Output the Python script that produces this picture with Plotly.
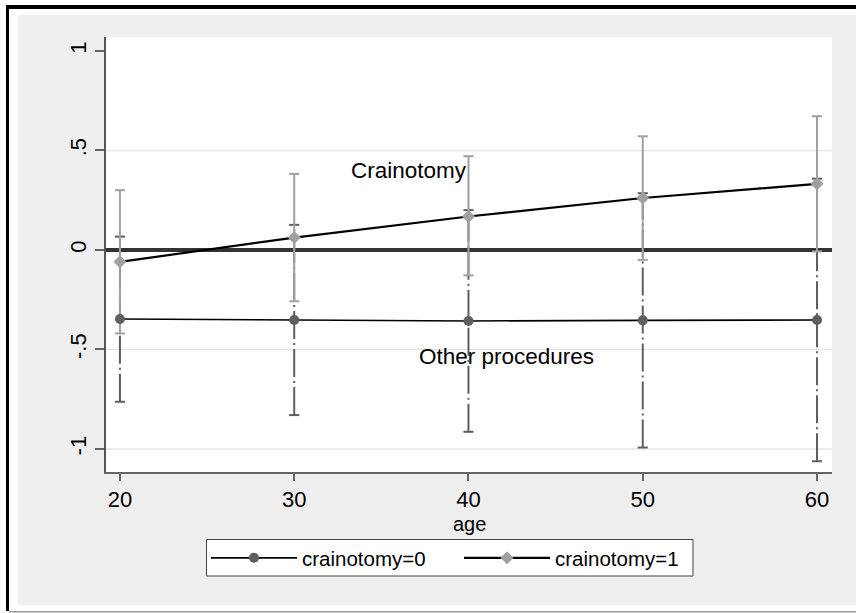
import plotly.graph_objects as go

# ---- data ----
ages = [20, 30, 40, 50, 60]
est0 = [-0.347, -0.352, -0.357, -0.354, -0.352]
lo0 = [-0.763, -0.830, -0.914, -0.993, -1.062]
hi0 = [0.067, 0.126, 0.200, 0.285, 0.358]
est1 = [-0.060, 0.062, 0.168, 0.261, 0.332]
lo1 = [-0.420, -0.258, -0.128, -0.050, -0.008]
hi1 = [0.300, 0.382, 0.471, 0.571, 0.672]
series_names = ["crainotomy=0", "crainotomy=1"]
ytick_vals = [-1, -0.5, 0, 0.5, 1]
ytick_text = ["-1", "-.5", "0", ".5", "1"]
xtick_vals = [20, 30, 40, 50, 60]
grid_vals = [-1, -0.5, 0.5]
x_title = "age"
label_crani = ("Crainotomy", 36.6, 0.40)
label_other = ("Other procedures", 42.2, -0.535)

# ---- layout geometry ----
W, H = 856, 613
L, R, T, B = 106, 24, 37, 141
PW, PH = W - L - R, H - T - B
FONT = "Liberation Sans, Arial, Helvetica, sans-serif"
DARK = "#5f5f5f"
LIGHT = "#a0a0a0"
CAP = 0.29


def px(v):
    return (v - L) / PW


def py(v):
    return (H - B - v) / PH


def bars(xs, lo, hi):
    bx, by, cx, cy = [], [], [], []
    for x, l, h in zip(xs, lo, hi):
        bx += [x, x, None]
        by += [l, h, None]
        for e in (l, h):
            cx += [x - CAP, x + CAP, None]
            cy += [e, e, None]
    return bx, by, cx, cy


fig = go.Figure()

b0 = bars(ages, lo0, hi0)
fig.add_trace(go.Scatter(x=b0[0], y=b0[1], mode="lines", showlegend=False, hoverinfo="skip",
                         line=dict(color=DARK, width=2, dash="28px,4px,2px,4px")))
fig.add_trace(go.Scatter(x=b0[2], y=b0[3], mode="lines", showlegend=False, hoverinfo="skip",
                         line=dict(color=DARK, width=2)))
b1 = bars(ages, lo1, hi1)
fig.add_trace(go.Scatter(x=b1[0], y=b1[1], mode="lines", showlegend=False, hoverinfo="skip",
                         line=dict(color=LIGHT, width=2)))
fig.add_trace(go.Scatter(x=b1[2], y=b1[3], mode="lines", showlegend=False, hoverinfo="skip",
                         line=dict(color=LIGHT, width=2)))

fig.add_trace(go.Scatter(x=ages, y=est0, mode="lines+markers", name=series_names[0],
                         line=dict(color="black", width=1.6),
                         marker=dict(symbol="circle", size=10, color=DARK, line=dict(width=0))))
fig.add_trace(go.Scatter(x=ages, y=est1, mode="lines+markers", name=series_names[1],
                         line=dict(color="black", width=2.2),
                         marker=dict(symbol="diamond", size=10, color=LIGHT, line=dict(width=0))))

shapes = []
for g in grid_vals:
    shapes.append(dict(type="line", xref="paper", yref="y", x0=0, x1=1, y0=g, y1=g,
                       line=dict(color="#e6e6e6", width=1.5), layer="below"))

frame = [
    (0, 18, 0, H, "white"),
    (0, W, 0, 15, "white"),
    (0, W, 605, H, "white"),
    (6, W, 5, 9, "black"),
    (6, 9, 5, 611, "black"),
    (9, W, 611, 612.6, "#999999"),
]
for x0, x1, y0, y1, c in frame:
    shapes.append(dict(type="rect", xref="paper", yref="paper", x0=px(x0), x1=px(x1),
                       y0=py(y1), y1=py(y0), fillcolor=c, line=dict(width=0), layer="above"))

# legend box
shapes.append(dict(type="rect", xref="paper", yref="paper", x0=px(206.5), x1=px(693),
                   y0=py(576), y1=py(539.5), fillcolor="white",
                   line=dict(color="#444444", width=1), layer="above"))

annotations = []
for txt, ax, ay in (label_crani, label_other):
    annotations.append(dict(text=txt, x=ax, y=ay, xref="x", yref="y", showarrow=False,
                            font=dict(family=FONT, size=22.5, color="black")))
annotations.append(dict(text=x_title, x=0.5, y=py(524), xref="paper", yref="paper",
                        showarrow=False, yanchor="middle", borderpad=0,
                        font=dict(family=FONT, size=20, color="black")))

fig.update_layout(
    width=W, height=H,
    margin=dict(l=L, r=R, t=T, b=B, pad=0),
    paper_bgcolor="#efefef",
    plot_bgcolor="white",
    font=dict(family=FONT, size=22, color="black"),
    shapes=shapes,
    annotations=annotations,
    legend=dict(orientation="h", x=px(206), y=py(538), xanchor="left", yanchor="top",
                bgcolor="rgba(0,0,0,0)", borderwidth=0,
                font=dict(family=FONT, size=20.5, color="black"),
                itemwidth=86, entrywidth=152, traceorder="normal"),
    xaxis=dict(range=[19.2, 60.86], tickvals=xtick_vals, showgrid=False, zeroline=False,
               showline=True, linecolor="#666666", linewidth=1.5, ticks="outside",
               ticklen=7, tickwidth=1.5, tickcolor="#666666"),
    yaxis=dict(range=[-1.116, 1.07], tickvals=ytick_vals, ticktext=ytick_text, tickangle=-90,
               showgrid=False, zeroline=True, zerolinecolor="#333333", zerolinewidth=4,
               showline=True, linecolor="#555555", linewidth=1.7, ticks="outside",
               ticklen=9, tickwidth=2, tickcolor="#666666", ticklabelstandoff=0),
)

fig.write_html("out.html")
